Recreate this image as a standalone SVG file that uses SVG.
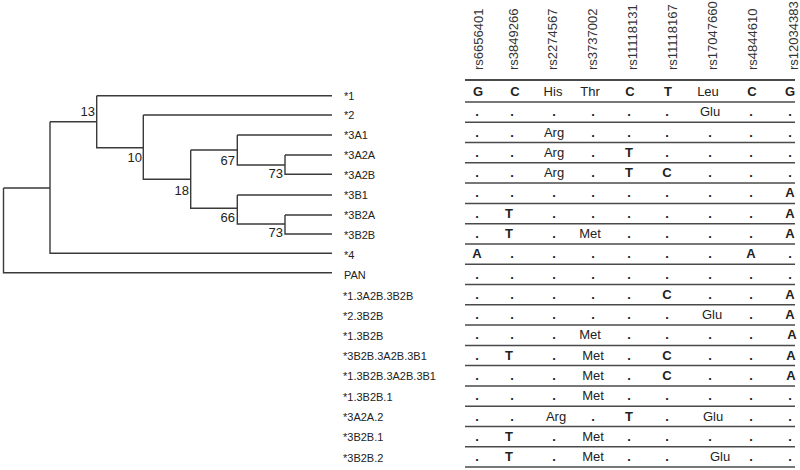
<svg xmlns="http://www.w3.org/2000/svg" width="800" height="470" viewBox="0 0 800 470">
<style>
.edge{fill:none;stroke:#3a3a3a;stroke-width:1.4}
.rule{stroke:#4a4a4a;stroke-width:1.5}
.lbl{font-family:"Liberation Sans",Arial,sans-serif;font-size:11px;fill:#222}
.bs{font-family:"Liberation Sans",Arial,sans-serif;font-size:13px;fill:#222;text-anchor:end}
.hd{font-family:"Liberation Sans",Arial,sans-serif;font-size:13px;fill:#333}
.row{font-family:"Liberation Sans",Arial,sans-serif;font-size:13px;fill:#222;text-anchor:middle}
.b{font-weight:bold}
.n{font-weight:normal}
</style>
<rect width="800" height="470" fill="#fff"/>
<g id="connectors">
<path class="edge" d="M3.5,188 V272.7 H332 M3.5,188 H50"/>
<path class="edge" d="M50,121.7 V253.3 H332 M50,121.7 H96.7"/>
<path class="edge" d="M96.7,95.7 V147.7 H143.3 M96.7,95.7 H332"/>
<path class="edge" d="M143.3,115 V179.3 H190.7 M143.3,115 H332"/>
<path class="edge" d="M190.7,150 V208.3 H237.3 M190.7,150 H237.3"/>
<path class="edge" d="M237.3,135 V165 H285 M237.3,135 H332"/>
<path class="edge" d="M285,155 V174.3 H332 M285,155 H332"/>
<path class="edge" d="M237.3,195 V224 H285 M237.3,195 H332"/>
<path class="edge" d="M285,215 V234 H332 M285,215 H332"/>
</g>
<g id="bootstrap">
<text class="bs" x="95" y="116">13</text>
<text class="bs" x="142" y="162">10</text>
<text class="bs" x="189" y="195">18</text>
<text class="bs" x="235" y="165">67</text>
<text class="bs" x="283" y="178">73</text>
<text class="bs" x="235" y="222">66</text>
<text class="bs" x="283" y="237">73</text>
</g>
<g id="labels">
<text id="n1" class="lbl" x="344" y="99.5">*1</text>
<text id="n2" class="lbl" x="344" y="119">*2</text>
<text id="n3A1" class="lbl" x="344" y="139">*3A1</text>
<text id="n3A2A" class="lbl" x="344" y="159">*3A2A</text>
<text id="n3A2B" class="lbl" x="344" y="179">*3A2B</text>
<text id="n3B1" class="lbl" x="344" y="199">*3B1</text>
<text id="n3B2A" class="lbl" x="344" y="219">*3B2A</text>
<text id="n3B2B" class="lbl" x="344" y="239">*3B2B</text>
<text id="n4" class="lbl" x="344" y="259">*4</text>
<text id="nPAN" class="lbl" x="344" y="279">PAN</text>
<text id="h1" class="lbl" x="343" y="299.5">*1.3A2B.3B2B</text>
<text id="h2" class="lbl" x="343" y="319.5">*2.3B2B</text>
<text id="h3" class="lbl" x="343" y="339.5">*1.3B2B</text>
<text id="h4" class="lbl" x="343" y="359.5">*3B2B.3A2B.3B1</text>
<text id="h5" class="lbl" x="343" y="380">*1.3B2B.3A2B.3B1</text>
<text id="h6" class="lbl" x="343" y="401">*1.3B2B.1</text>
<text id="h7" class="lbl" x="343" y="421">*3A2A.2</text>
<text id="h8" class="lbl" x="343" y="441">*3B2B.1</text>
<text id="h9" class="lbl" x="343" y="461.5">*3B2B.2</text>
</g>
<g id="header">
<text class="hd" transform="translate(483,70) rotate(-90)">rs6656401</text>
<text class="hd" transform="translate(518,70) rotate(-90)">rs3849266</text>
<text class="hd" transform="translate(557,70) rotate(-90)">rs2274567</text>
<text class="hd" transform="translate(597,70) rotate(-90)">rs3737002</text>
<text class="hd" transform="translate(637,70) rotate(-90)">rs11118131</text>
<text class="hd" transform="translate(677,70) rotate(-90)">rs11118167</text>
<text class="hd" transform="translate(717,70) rotate(-90)">rs17047660</text>
<text class="hd" transform="translate(757,70) rotate(-90)">rs4844610</text>
<text class="hd" transform="translate(798,70) rotate(-90)">rs12034383</text>
</g>
<g id="rules">
<line class="rule" x1="465" y1="80" x2="795" y2="80" style="stroke-width:2"/>
<line class="rule" x1="465" y1="102" x2="795" y2="102"/>
<line class="rule" x1="465" y1="122.3" x2="795" y2="122.3"/>
<line class="rule" x1="465" y1="142.6" x2="795" y2="142.6"/>
<line class="rule" x1="465" y1="162.8" x2="795" y2="162.8"/>
<line class="rule" x1="465" y1="183.1" x2="795" y2="183.1"/>
<line class="rule" x1="465" y1="203.4" x2="795" y2="203.4"/>
<line class="rule" x1="465" y1="223.7" x2="795" y2="223.7"/>
<line class="rule" x1="465" y1="244" x2="795" y2="244"/>
<line class="rule" x1="465" y1="264.2" x2="795" y2="264.2"/>
<line class="rule" x1="465" y1="284.5" x2="795" y2="284.5"/>
<line class="rule" x1="465" y1="304.8" x2="795" y2="304.8"/>
<line class="rule" x1="465" y1="325.1" x2="795" y2="325.1"/>
<line class="rule" x1="465" y1="345.4" x2="795" y2="345.4"/>
<line class="rule" x1="465" y1="365.6" x2="795" y2="365.6"/>
<line class="rule" x1="465" y1="385.9" x2="795" y2="385.9"/>
<line class="rule" x1="465" y1="406.2" x2="795" y2="406.2"/>
<line class="rule" x1="465" y1="426.5" x2="795" y2="426.5"/>
<line class="rule" x1="465" y1="446.8" x2="795" y2="446.8"/>
<line class="rule" x1="465" y1="467" x2="795" y2="467"/>
</g>
<g id="table">
<text class="row" y="96"><tspan class="b" x="478">G</tspan><tspan class="b" x="515">C</tspan><tspan x="553">His</tspan><tspan x="590">Thr</tspan><tspan class="b" x="630">C</tspan><tspan class="b" x="668">T</tspan><tspan x="708">Leu</tspan><tspan class="b" x="752">C</tspan><tspan class="b" x="790">G</tspan></text>
<text class="row b" y="116"><tspan x="477">.</tspan><tspan x="512">.</tspan><tspan x="554">.</tspan><tspan x="593">.</tspan><tspan x="629">.</tspan><tspan x="667">.</tspan><tspan class="n" x="710">Glu</tspan><tspan x="751">.</tspan><tspan x="790">.</tspan></text>
<text class="row b" y="137"><tspan x="477">.</tspan><tspan x="512">.</tspan><tspan class="n" x="554">Arg</tspan><tspan x="593">.</tspan><tspan x="629">.</tspan><tspan x="667">.</tspan><tspan x="710">.</tspan><tspan x="751">.</tspan><tspan x="790">.</tspan></text>
<text class="row b" y="157"><tspan x="477">.</tspan><tspan x="512">.</tspan><tspan class="n" x="554">Arg</tspan><tspan x="593">.</tspan><tspan x="629">T</tspan><tspan x="667">.</tspan><tspan x="710">.</tspan><tspan x="751">.</tspan><tspan x="790">.</tspan></text>
<text class="row b" y="177"><tspan x="477">.</tspan><tspan x="512">.</tspan><tspan class="n" x="554">Arg</tspan><tspan x="593">.</tspan><tspan x="629">T</tspan><tspan x="667">C</tspan><tspan x="710">.</tspan><tspan x="751">.</tspan><tspan x="790">.</tspan></text>
<text class="row b" y="197"><tspan x="477">.</tspan><tspan x="512">.</tspan><tspan x="554">.</tspan><tspan x="593">.</tspan><tspan x="629">.</tspan><tspan x="667">.</tspan><tspan x="710">.</tspan><tspan x="751">.</tspan><tspan x="790">A</tspan></text>
<text class="row b" y="218"><tspan x="477">.</tspan><tspan x="509">T</tspan><tspan x="554">.</tspan><tspan x="593">.</tspan><tspan x="629">.</tspan><tspan x="667">.</tspan><tspan x="710">.</tspan><tspan x="751">.</tspan><tspan x="790">A</tspan></text>
<text class="row b" y="238"><tspan x="477">.</tspan><tspan x="509">T</tspan><tspan x="554">.</tspan><tspan class="n" x="590">Met</tspan><tspan x="629">.</tspan><tspan x="667">.</tspan><tspan x="710">.</tspan><tspan x="751">.</tspan><tspan x="790">A</tspan></text>
<text class="row b" y="258"><tspan x="477">A</tspan><tspan x="512">.</tspan><tspan x="554">.</tspan><tspan x="593">.</tspan><tspan x="629">.</tspan><tspan x="667">.</tspan><tspan x="710">.</tspan><tspan x="751">A</tspan><tspan x="790">.</tspan></text>
<text class="row b" y="279"><tspan x="477">.</tspan><tspan x="512">.</tspan><tspan x="554">.</tspan><tspan x="593">.</tspan><tspan x="629">.</tspan><tspan x="667">.</tspan><tspan x="710">.</tspan><tspan x="751">.</tspan><tspan x="790">.</tspan></text>
<text class="row b" y="299"><tspan x="477">.</tspan><tspan x="512">.</tspan><tspan x="554">.</tspan><tspan x="593">.</tspan><tspan x="629">.</tspan><tspan x="667">C</tspan><tspan x="710">.</tspan><tspan x="751">.</tspan><tspan x="790">A</tspan></text>
<text class="row b" y="319"><tspan x="477">.</tspan><tspan x="512">.</tspan><tspan x="554">.</tspan><tspan x="593">.</tspan><tspan x="629">.</tspan><tspan x="667">.</tspan><tspan class="n" x="712">Glu</tspan><tspan x="751">.</tspan><tspan x="790">A</tspan></text>
<text class="row b" y="339"><tspan x="477">.</tspan><tspan x="512">.</tspan><tspan x="554">.</tspan><tspan class="n" x="590">Met</tspan><tspan x="629">.</tspan><tspan x="667">.</tspan><tspan x="710">.</tspan><tspan x="751">.</tspan><tspan x="792">A</tspan></text>
<text class="row b" y="360"><tspan x="477">.</tspan><tspan x="509">T</tspan><tspan x="554">.</tspan><tspan class="n" x="593">Met</tspan><tspan x="629">.</tspan><tspan x="667">C</tspan><tspan x="710">.</tspan><tspan x="751">.</tspan><tspan x="791">A</tspan></text>
<text class="row b" y="380"><tspan x="477">.</tspan><tspan x="512">.</tspan><tspan x="554">.</tspan><tspan class="n" x="593">Met</tspan><tspan x="629">.</tspan><tspan x="667">C</tspan><tspan x="710">.</tspan><tspan x="751">.</tspan><tspan x="791">A</tspan></text>
<text class="row b" y="400"><tspan x="477">.</tspan><tspan x="512">.</tspan><tspan x="554">.</tspan><tspan class="n" x="593">Met</tspan><tspan x="629">.</tspan><tspan x="667">.</tspan><tspan x="710">.</tspan><tspan x="751">.</tspan><tspan x="790">.</tspan></text>
<text class="row b" y="421"><tspan x="477">.</tspan><tspan x="512">.</tspan><tspan class="n" x="556">Arg</tspan><tspan x="593">.</tspan><tspan x="629">T</tspan><tspan x="667">.</tspan><tspan class="n" x="713">Glu</tspan><tspan x="751">.</tspan><tspan x="790">.</tspan></text>
<text class="row b" y="441"><tspan x="477">.</tspan><tspan x="509">T</tspan><tspan x="554">.</tspan><tspan class="n" x="593">Met</tspan><tspan x="629">.</tspan><tspan x="667">.</tspan><tspan x="710">.</tspan><tspan x="751">.</tspan><tspan x="790">.</tspan></text>
<text class="row b" y="461"><tspan x="477">.</tspan><tspan x="509">T</tspan><tspan x="554">.</tspan><tspan class="n" x="593">Met</tspan><tspan x="629">.</tspan><tspan x="667">.</tspan><tspan class="n" x="720">Glu</tspan><tspan x="751">.</tspan><tspan x="790">.</tspan></text>
</g>
</svg>
